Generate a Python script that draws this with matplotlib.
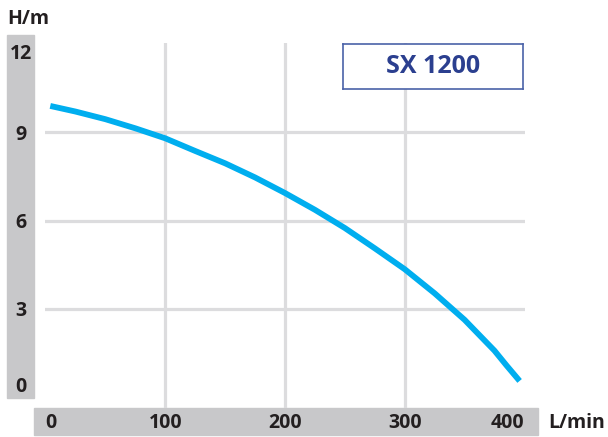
import matplotlib
matplotlib.use("Agg")
import matplotlib.pyplot as plt
from matplotlib.patches import Rectangle

plt.rcParams['font.family'] = ['Open Sans', 'DejaVu Sans']
plt.rcParams['font.weight'] = 'bold'

# curve (flow L/min vs head m)
flow = [4, 25, 50, 75, 100, 125, 150, 175, 200, 225, 250, 275, 300, 325, 350, 375, 385, 396]
head = [9.9, 9.71, 9.45, 9.14, 8.8, 8.37, 7.95, 7.47, 6.94, 6.37, 5.75, 5.06, 4.35, 3.53,
        2.63, 1.58, 1.08, 0.55]

x_ticks = [0, 100, 200, 300, 400]
y_ticks = [0, 3, 6, 9, 12]
x_grid = [100, 200, 300]
y_grid = [3, 6, 9]
model = "SX 1200"

W, H = 608, 437
txt_col = '#231f20'
bar_col = '#c8c8ca'
grid_col = '#dcdcde'
line_col = '#00aeef'
fs = 14

fig = plt.figure(figsize=(W / 100, H / 100), dpi=100)

def frac_rect(x0, y0, x1, y1):
    # pixel box (top-left origin) -> figure fraction rect
    return [x0 / W, (H - y1) / H, (x1 - x0) / W, (y1 - y0) / H]

# gray label bars, kept under the axes
fig.patches.append(Rectangle((7 / W, (H - 398) / H), 27 / W, 363 / H,
                             transform=fig.transFigure, color=bar_col, zorder=-1))
fig.patches.append(Rectangle((34 / W, (H - 435) / H), 504 / W, 27 / H,
                             transform=fig.transFigure, color=bar_col, zorder=-1))

ax = fig.add_axes(frac_rect(45, 43, 525, 408))
ax.set_xlim(-0.4, 400.5)
ax.set_ylim(-0.37, 12.04)
ax.patch.set_alpha(0)
for s in ax.spines.values():
    s.set_visible(False)

for gx in x_grid:
    ax.axvline(gx, color=grid_col, lw=2.3, zorder=1)
for gy in y_grid:
    ax.axhline(gy, color=grid_col, lw=2.3, zorder=1)

ax.plot(flow, head, color=line_col, lw=4.2, solid_capstyle='butt',
        solid_joinstyle='round', zorder=3)

ax.set_xticks(x_ticks)
ax.set_xticklabels([str(v) for v in x_ticks])
ax.set_yticks(y_ticks)
ax.set_yticklabels([str(v) for v in y_ticks])
ax.tick_params(axis='both', length=0, labelsize=fs, labelcolor=txt_col)
ax.tick_params(axis='x', pad=10.6)
ax.tick_params(axis='y', pad=17.6)
for lab in ax.get_xticklabels():
    lab.set_va('center')
    lab.set_fontweight('bold')
ax.get_xticklabels()[0].set_ha('left')
ax.get_xticklabels()[-1].set_ha('right')
for lab in ax.get_yticklabels():
    lab.set_ha('center')
    lab.set_fontweight('bold')
ax.get_yticklabels()[0].set_va('bottom')
ax.get_yticklabels()[-1].set_va('top')

# axis unit labels
fig.text(7 / W, (H - 19) / H, "H/m", ha='left', va='center',
         fontsize=fs, fontweight='bold', color=txt_col)
fig.text(548 / W, (H - 423) / H, "L/min", ha='left', va='center',
         fontsize=fs, fontweight='bold', color=txt_col)

# model box
box = fig.add_axes(frac_rect(343, 44, 523, 89))
box.set_xticks([])
box.set_yticks([])
box.set_facecolor('white')
for s in box.spines.values():
    s.set_color('#4a62a8')
    s.set_linewidth(1.2)
box.text(0.5, 0.5, model, ha='center', va='center', fontsize=18,
         fontweight='bold', color='#2b3f8f', transform=box.transAxes)

fig.savefig("out.png", dpi=100)
